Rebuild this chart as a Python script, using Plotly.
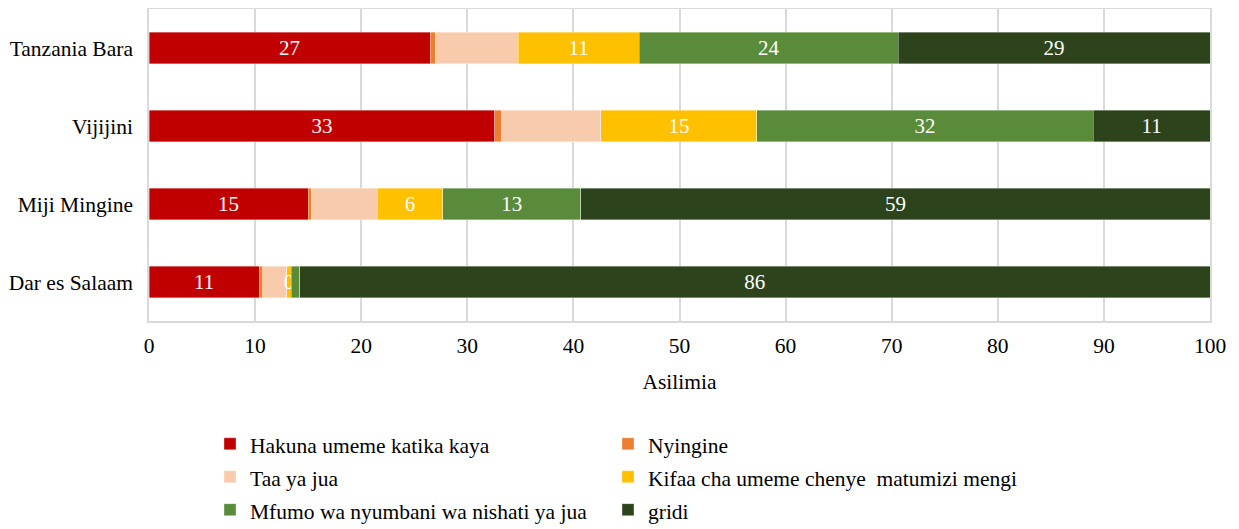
import plotly.graph_objects as go

categories = ["Tanzania Bara", "Vijijini", "Miji Mingine", "Dar es Salaam"]

series_names = [
    "Hakuna umeme katika kaya",
    "Nyingine",
    "Taa ya jua",
    "Kifaa cha umeme chenye\u00a0 matumizi mengi",
    "Mfumo wa nyumbani wa nishati ya jua",
    "gridi",
]

hakuna = [26.5, 32.6, 15.0, 10.4]
nyingine = [0.5, 0.6, 0.3, 0.3]
taa = [7.8, 9.4, 6.2, 2.3]
kifaa = [11.4, 14.7, 6.2, 0.4]
mfumo = [24.4, 31.7, 13.0, 0.8]
gridi = [29.4, 11.0, 59.3, 85.8]

hakuna_labels = ["27", "33", "15", "11"]
nyingine_labels = ["", "", "", ""]
taa_labels = ["", "", "", ""]
kifaa_labels = ["11", "15", "6", "0"]
mfumo_labels = ["24", "32", "13", ""]
gridi_labels = ["29", "11", "59", "86"]

colors = ["#C00000", "#ED7D31", "#F8CBAD", "#FFC000", "#5A8B3A", "#2C431B"]
legend_ids = ["legend", "legend2", "legend", "legend2", "legend", "legend2"]

values = [hakuna, nyingine, taa, kifaa, mfumo, gridi]
labels = [hakuna_labels, nyingine_labels, taa_labels, kifaa_labels, mfumo_labels, gridi_labels]

FONT = "Liberation Serif"
FS = 21.5

fig = go.Figure()
for name, vals, labs, col, lg in zip(series_names, values, labels, colors, legend_ids):
    fig.add_trace(go.Bar(
        y=categories, x=vals,
        name='<span style="font-size:%spx">%s</span>' % (FS, name),
        orientation="h", legend=lg,
        marker=dict(color=col, line=dict(color="rgba(255,255,255,0.6)", width=0.6)),
        text=labs, textposition="inside", insidetextanchor="middle",
        textangle=0, textfont=dict(color="white", size=21, family=FONT),
        hoverinfo="x+y",
    ))

legend_common = dict(
    orientation="v", xanchor="left", y=-0.325, yanchor="top",
    font=dict(size=23, family=FONT), traceorder="normal", itemwidth=30,
    bgcolor="rgba(0,0,0,0)",
)

fig.update_layout(
    barmode="stack",
    bargap=0.6,
    width=1231, height=521,
    margin=dict(l=141, r=29, t=1, b=208, autoexpand=False),
    plot_bgcolor="white", paper_bgcolor="white",
    font=dict(family=FONT, size=FS, color="black"),
    uniformtext=dict(minsize=21, mode="show"),
    xaxis=dict(
        range=[0, 100], dtick=10, showgrid=True, gridcolor="#D9D9D9", gridwidth=1.5,
        showline=True, linecolor="#D9D9D9", linewidth=1.5, mirror=True,
        zeroline=False, ticks="", ticklen=0, ticklabelstandoff=4,
        tickfont=dict(size=FS, family=FONT),
        title=dict(text="Asilimia", font=dict(size=FS, family=FONT), standoff=17),
    ),
    yaxis=dict(
        autorange="reversed", showgrid=False,
        showline=True, linecolor="#D9D9D9", linewidth=1.5, mirror=True,
        ticks="", ticklabelstandoff=10,
        tickfont=dict(size=FS, family=FONT),
    ),
    legend=dict(x=0.0575, **legend_common),
    legend2=dict(x=0.4326, **legend_common),
    showlegend=True,
)

fig.write_html("out.html")
